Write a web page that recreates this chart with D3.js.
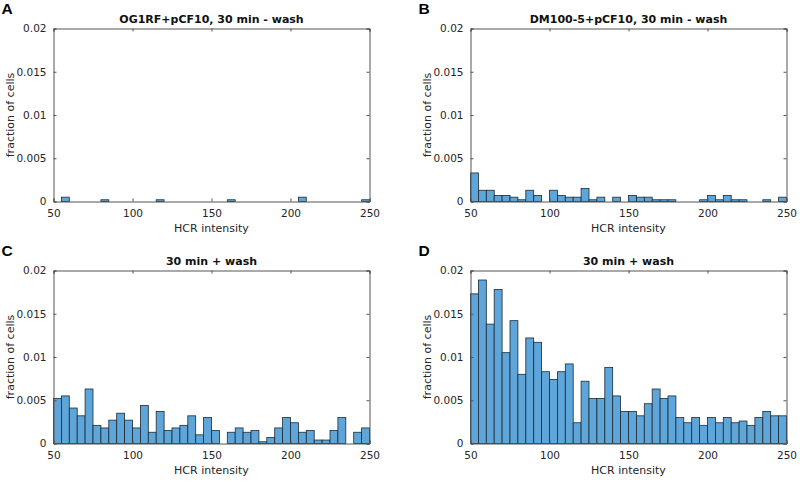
<!DOCTYPE html>
<html>
<head>
<meta charset="utf-8">
<script src="https://cdn.jsdelivr.net/npm/d3@7"></script>
<style>
  body { margin: 0; background: #fff; }
  svg { display: block; }
  text { font-family: "DejaVu Sans", sans-serif; fill: #262626; }
</style>
</head>
<body>
<div id="chart"></div>
<script>
// histogram bins (left edges), width 5
const binStarts = [50, 55, 60, 65, 70, 75, 80, 85, 90, 95,
                   100, 105, 110, 115, 120, 125, 130, 135, 140, 145,
                   150, 155, 160, 165, 170, 175, 180, 185, 190, 195,
                   200, 205, 210, 215, 220, 225, 230, 235, 240, 245];
const binWidth = 5;

const xTicks = [50, 100, 150, 200, 250];
const yTicks = [0, 0.005, 0.01, 0.015, 0.02];
const yTickLabels = ['0', '0.005', '0.01', '0.015', '0.02'];

// panel A
const valuesA = [0, 0.0005, 0, 0, 0, 0, 0.0002, 0, 0, 0,
                 0, 0, 0, 0.0002, 0, 0, 0, 0, 0, 0,
                 0, 0, 0.0002, 0, 0, 0, 0, 0, 0, 0,
                 0, 0.0005, 0, 0, 0, 0, 0, 0, 0, 0.0002];
// panel B
const valuesB = [0.0033, 0.0013, 0.0013, 0.0007, 0.0007, 0.0005, 0.0002, 0.0013, 0.0007, 0,
                 0.0013, 0.0007, 0.0005, 0.0005, 0.0015, 0.0002, 0.0005, 0, 0.0005, 0,
                 0.0007, 0.0005, 0.0005, 0.0002, 0.0002, 0.0002, 0, 0, 0, 0.0002,
                 0.0007, 0.0002, 0.0007, 0.0002, 0.0002, 0, 0, 0.0002, 0, 0.0005];
// panel C
const valuesC = [0.0052, 0.0055, 0.0041, 0.0032, 0.0063, 0.0021, 0.0018, 0.0027, 0.0035, 0.0027,
                 0.0018, 0.0044, 0.0013, 0.0037, 0.0015, 0.0018, 0.0021, 0.0032, 0.0010, 0.0030,
                 0.0015, 0, 0.0013, 0.0018, 0.0013, 0.0015, 0.0002, 0.0007, 0.0018, 0.0030,
                 0.0024, 0.0013, 0.0015, 0.0004, 0.0004, 0.0015, 0.0030, 0, 0.0013, 0.0018];
// panel D
const valuesD = [0.0173, 0.0189, 0.0138, 0.0178, 0.0105, 0.0142, 0.0080, 0.0122, 0.0117, 0.0083,
                 0.0074, 0.0083, 0.0092, 0.0024, 0.0072, 0.0052, 0.0052, 0.0088, 0.0055, 0.0037,
                 0.0037, 0.0032, 0.0046, 0.0063, 0.0052, 0.0055, 0.0030, 0.0024, 0.0030, 0.0021,
                 0.0030, 0.0024, 0.0030, 0.0024, 0.0026, 0.0021, 0.0030, 0.0037, 0.0032, 0.0032];

const panels = [
  { letter: 'A', title: 'OG1RF+pCF10, 30 min - wash', values: valuesA, left: 53.5, top: 28.5 },
  { letter: 'B', title: 'DM100-5+pCF10, 30 min - wash', values: valuesB, left: 470.5, top: 28.5 },
  { letter: 'C', title: '30 min + wash', values: valuesC, left: 53.5, top: 270.5 },
  { letter: 'D', title: '30 min + wash', values: valuesD, left: 470.5, top: 270.5 }
];

const W = 800, H = 481;
const plotW = 316, plotH = 173;

const svg = d3.select('#chart').append('svg')
  .attr('width', W)
  .attr('height', H);

panels.forEach(p => {
  const g = svg.append('g').attr('transform', `translate(${p.left},${p.top})`);

  const x = d3.scaleLinear().domain([50, 250]).range([0, plotW]);
  const y = d3.scaleLinear().domain([0, 0.02]).range([plotH, 0]);

  // bars
  g.append('g')
    .selectAll('rect')
    .data(binStarts.map((b, i) => ({ start: b, value: p.values[i] })).filter(d => d.value > 0))
    .enter()
    .append('rect')
    .attr('x', d => x(d.start))
    .attr('y', d => y(d.value))
    .attr('width', d => x(d.start + binWidth) - x(d.start))
    .attr('height', d => y(0) - y(d.value))
    .attr('fill', '#5ea6da')
    .attr('stroke', '#1d2a33')
    .attr('stroke-width', 0.8);

  // axes, ticks inward (matlab style)
  const xAxis = d3.axisBottom(x).tickValues(xTicks).tickSize(-3).tickPadding(8).tickFormat(d3.format('d'));
  const yAxis = d3.axisLeft(y).tickValues(yTicks).tickSize(-3).tickPadding(7)
    .tickFormat((d, i) => yTickLabels[i]);

  const gx = g.append('g').attr('transform', `translate(0,${plotH})`).call(xAxis);
  const gy = g.append('g').call(yAxis);
  const gxTop = g.append('g').call(d3.axisTop(x).tickValues(xTicks).tickSize(-3).tickFormat(''));
  const gyRight = g.append('g').attr('transform', `translate(${plotW},0)`)
    .call(d3.axisRight(y).tickValues(yTicks).tickSize(-3).tickFormat(''));

  [gx, gy, gxTop, gyRight].forEach(a => {
    a.select('.domain').attr('stroke', '#555').attr('stroke-width', 1);
    a.selectAll('.tick line').attr('stroke', '#555');
    a.selectAll('.tick text')
      .style('font-family', '"DejaVu Sans", sans-serif')
      .style('font-size', '10.5px')
      .attr('fill', '#262626');
  });

  // title
  g.append('text')
    .attr('x', plotW / 2)
    .attr('y', -6)
    .attr('text-anchor', 'middle')
    .style('font-size', '11px')
    .style('font-weight', 'bold')
    .style('fill', '#111')
    .text(p.title);

  // axis labels
  g.append('text')
    .attr('x', plotW / 2)
    .attr('y', plotH + 30)
    .attr('text-anchor', 'middle')
    .style('font-size', '11px')
    .text('HCR intensity');

  g.append('text')
    .attr('transform', `translate(${-40},${plotH / 2}) rotate(-90)`)
    .attr('text-anchor', 'middle')
    .style('font-size', '11px')
    .text('fraction of cells');

  // panel letter
  svg.append('text')
    .attr('x', p.left - 52)
    .attr('y', p.top - 15)
    .style('font-family', '"Liberation Sans", Arial, sans-serif')
    .style('font-size', '15.5px')
    .style('font-weight', 'bold')
    .style('fill', '#000')
    .text(p.letter);
});
</script>
</body>
</html>
